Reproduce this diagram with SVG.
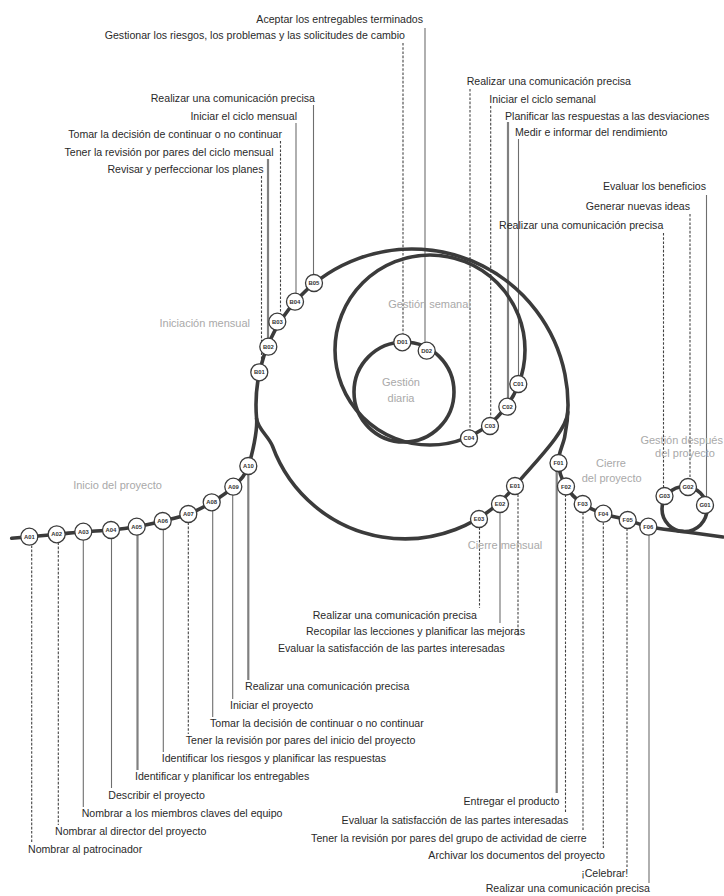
<svg xmlns="http://www.w3.org/2000/svg" width="724" height="896" viewBox="0 0 724 896">
<style>
.t{font-family:"Liberation Sans",Arial,sans-serif;font-size:10.6px;fill:#2a2a2a}
.e{text-anchor:end}
.r{font-family:"Liberation Sans",Arial,sans-serif;font-size:11px;fill:#a9a9a9}
.m{text-anchor:middle}
.ls{stroke:#6e6e6e;stroke-width:1.1;fill:none}
.ld{stroke:#444;stroke-width:1.1;stroke-dasharray:2.6 1.6;fill:none}
.lt{stroke:#808080;stroke-width:2.2;fill:none}
.track{stroke:#3b3b3b;stroke-width:3.6;fill:none;stroke-linecap:round}
.n circle{fill:#fff;stroke:#3b3b3b;stroke-width:1.3}
.n text{font-family:"Liberation Sans",Arial,sans-serif;font-size:5.9px;font-weight:bold;fill:#333;text-anchor:middle}
</style>
<rect width="724" height="896" fill="#fff"/>
<g id="connectors">
<line class="ls" x1="425" y1="28" x2="425" y2="350"/>
<line class="ld" x1="403" y1="43" x2="403" y2="342"/>
<line class="ls" x1="313.5" y1="105" x2="313.5" y2="283"/>
<line class="ls" x1="296" y1="123" x2="296" y2="301"/>
<line class="ld" x1="280.5" y1="141" x2="280.5" y2="321"/>
<line class="lt" x1="268" y1="159" x2="268" y2="346"/>
<line class="ld" x1="261.5" y1="176" x2="261.5" y2="372"/>
<line class="ld" x1="470" y1="89" x2="470" y2="438"/>
<line class="ld" x1="490.7" y1="106" x2="490.7" y2="426"/>
<line class="lt" x1="508" y1="122" x2="508" y2="406"/>
<line class="ls" x1="518.5" y1="139" x2="518.5" y2="384"/>
<line class="ls" x1="706.5" y1="195" x2="706.5" y2="505"/>
<line class="ld" x1="690" y1="214" x2="690" y2="483"/>
<line class="ld" x1="663.5" y1="233" x2="663.5" y2="494"/>
<line class="ld" x1="518" y1="486" x2="518" y2="637"/>
<line class="ls" x1="500" y1="504" x2="500" y2="623"/>
<line class="ld" x1="479.5" y1="519" x2="479.5" y2="608"/>
<line class="lt" x1="556.7" y1="463" x2="556.7" y2="793"/>
<line class="ld" x1="565.5" y1="486" x2="565.5" y2="812"/>
<line class="ld" x1="583" y1="504" x2="583" y2="830"/>
<line class="ld" x1="603.3" y1="514" x2="603.3" y2="848"/>
<line class="ld" x1="627" y1="520" x2="627" y2="867"/>
<line class="ls" x1="649" y1="527" x2="649" y2="883"/>
<line class="ld" x1="31.7" y1="537" x2="31.7" y2="843"/>
<line class="ld" x1="58.3" y1="534" x2="58.3" y2="825"/>
<line class="ls" x1="83.3" y1="532" x2="83.3" y2="807"/>
<line class="ls" x1="111.5" y1="530" x2="111.5" y2="788"/>
<line class="lt" x1="137.5" y1="527" x2="137.5" y2="770"/>
<line class="ls" x1="163.3" y1="521" x2="163.3" y2="752"/>
<line class="ld" x1="188.3" y1="514" x2="188.3" y2="734"/>
<line class="ls" x1="212.7" y1="502" x2="212.7" y2="717"/>
<line class="ls" x1="232.7" y1="487" x2="232.7" y2="699"/>
<line class="lt" x1="248.3" y1="466" x2="248.3" y2="680"/>
<path class="track" d="M11.7,538.3 C14.6,538 21.8,537.4 29.3,536.7 C36.8,536 47.7,535.1 56.7,534.3 C65.7,533.5 74.3,532.4 83.3,531.7 C92.4,531 102.1,530.8 111,530 C119.9,529.2 128.1,528.2 136.7,526.7 C145.3,525.2 154.1,523.1 162.7,521 C171.3,518.9 180.1,517.1 188.3,514 C196.5,510.9 204.2,506.9 211.7,502.3 C219.2,497.8 227.2,492.8 233.3,486.7 C239.4,480.7 244.4,477.4 248.3,466 C252.2,454.7 257.6,430.6 256.6,418.6 A156,156 0 1 1 564.6,437.4 C562.7,446.2 557.5,455 558.5,463 C558.7,471.2 562,479.7 566,486.5 C570,493.3 576.5,499.5 582.7,504 C588.9,508.5 595.8,511 603.3,513.7 C610.8,516.4 620.2,517.8 627.7,520 C635.2,522.2 638.8,524.7 648.3,526.7 C657.8,528.7 672,530 684.5,531.7 C697,533.4 716.6,536 723,537"/>
<path class="track" d="M567.8,412 C566.9,432 530.6,466.5 515,486 A141,141 0 0 1 272.5,446.2 C269.1,436.8 257.5,428.6 256.6,418.6"/>
<circle class="track" cx="430" cy="350" r="95"/>
<circle class="track" cx="404" cy="392" r="50"/>
<circle class="track" cx="684.5" cy="509" r="22.5"/>
</g>
<g id="labels">
<text class="t e" x="423" y="23">Aceptar los entregables terminados</text>
<text class="t e" x="405" y="39">Gestionar los riesgos, los problemas y las solicitudes de cambio</text>
<text class="t e" x="315" y="102">Realizar una comunicación precisa</text>
<text class="t e" x="297" y="120">Iniciar el ciclo mensual</text>
<text class="t e" x="282" y="138">Tomar la decisión de continuar o no continuar</text>
<text class="t e" x="273.5" y="156">Tener la revisión por pares del ciclo mensual</text>
<text class="t e" x="263.5" y="173">Revisar y perfeccionar los planes</text>
<text class="t" x="466.7" y="85">Realizar una comunicación precisa</text>
<text class="t" x="489.3" y="103">Iniciar el ciclo semanal</text>
<text class="t" x="505" y="120">Planificar las respuestas a las desviaciones</text>
<text class="t" x="515" y="136">Medir e informar del rendimiento</text>
<text class="t e" x="706" y="190">Evaluar los beneficios</text>
<text class="t e" x="690" y="210">Generar nuevas ideas</text>
<text class="t e" x="663.3" y="229">Realizar una comunicación precisa</text>
<text class="t e" x="477" y="619">Realizar una comunicación precisa</text>
<text class="t e" x="525" y="635">Recopilar las lecciones y planificar las mejoras</text>
<text class="t" x="278" y="652">Evaluar la satisfacción de las partes interesadas</text>
<text class="t" x="245" y="690">Realizar una comunicación precisa</text>
<text class="t" x="230" y="709">Iniciar el proyecto</text>
<text class="t" x="210" y="727">Tomar la decisión de continuar o no continuar</text>
<text class="t" x="185.7" y="743.5">Tener la revisión por pares del inicio del proyecto</text>
<text class="t" x="161.7" y="762">Identificar los riesgos y planificar las respuestas</text>
<text class="t" x="135" y="780">Identificar y planificar los entregables</text>
<text class="t" x="108.3" y="798.5">Describir el proyecto</text>
<text class="t" x="81.7" y="817">Nombrar a los miembros claves del equipo</text>
<text class="t" x="55" y="835">Nombrar al director del proyecto</text>
<text class="t" x="28" y="853">Nombrar al patrocinador</text>
<text class="t e" x="559.5" y="805">Entregar el producto</text>
<text class="t e" x="568.3" y="823.5">Evaluar la satisfacción de las partes interesadas</text>
<text class="t e" x="586.7" y="842">Tener la revisión por pares del grupo de actividad de cierre</text>
<text class="t e" x="605" y="858.5">Archivar los documentos del proyecto</text>
<text class="t e" x="628.3" y="877">¡Celebrar!</text>
<text class="t e" x="650" y="892">Realizar una comunicación precisa</text>
<text class="r m" x="117.5" y="489">Inicio del proyecto</text>
<text class="r e" x="250" y="327">Iniciación mensual</text>
<text class="r m" x="429.5" y="308">Gestión semanal</text>
<text class="r m" x="401" y="386">Gestión</text>
<text class="r m" x="401" y="402">diaria</text>
<text class="r m" x="505" y="549">Cierre mensual</text>
<text class="r m" x="611" y="467">Cierre</text>
<text class="r m" x="611.7" y="482">del proyecto</text>
<text class="r m" x="681.7" y="444">Gestión después</text>
<text class="r m" x="685" y="457">del proyecto</text>
</g>
<g id="A01" class="n"><circle cx="29.3" cy="536.7" r="8.5"/><text x="29.3" y="538.8">A01</text></g>
<g id="A02" class="n"><circle cx="56.7" cy="534.3" r="8.5"/><text x="56.7" y="536.4">A02</text></g>
<g id="A03" class="n"><circle cx="83.3" cy="531.7" r="8.5"/><text x="83.3" y="533.8">A03</text></g>
<g id="A04" class="n"><circle cx="111" cy="530" r="8.5"/><text x="111" y="532.1">A04</text></g>
<g id="A05" class="n"><circle cx="136.7" cy="526.7" r="8.5"/><text x="136.7" y="528.8">A05</text></g>
<g id="A06" class="n"><circle cx="162.7" cy="521" r="8.5"/><text x="162.7" y="523.1">A06</text></g>
<g id="A07" class="n"><circle cx="188.3" cy="514" r="8.5"/><text x="188.3" y="516.1">A07</text></g>
<g id="A08" class="n"><circle cx="211.7" cy="502.3" r="8.5"/><text x="211.7" y="504.4">A08</text></g>
<g id="A09" class="n"><circle cx="233.3" cy="486.7" r="8.5"/><text x="233.3" y="488.8">A09</text></g>
<g id="A10" class="n"><circle cx="248.3" cy="466" r="8.5"/><text x="248.3" y="468.1">A10</text></g>
<g id="B01" class="n"><circle cx="259.3" cy="372.3" r="8.5"/><text x="259.3" y="374.4">B01</text></g>
<g id="B02" class="n"><circle cx="268.3" cy="346.7" r="8.5"/><text x="268.3" y="348.8">B02</text></g>
<g id="B03" class="n"><circle cx="277.3" cy="321.7" r="8.5"/><text x="277.3" y="323.8">B03</text></g>
<g id="B04" class="n"><circle cx="295" cy="301.7" r="8.5"/><text x="295" y="303.8">B04</text></g>
<g id="B05" class="n"><circle cx="314" cy="283" r="8.5"/><text x="314" y="285.1">B05</text></g>
<g id="C01" class="n"><circle cx="518.3" cy="384" r="8.5"/><text x="518.3" y="386.1">C01</text></g>
<g id="C02" class="n"><circle cx="507.3" cy="406.7" r="8.5"/><text x="507.3" y="408.8">C02</text></g>
<g id="C03" class="n"><circle cx="490" cy="426" r="8.5"/><text x="490" y="428.1">C03</text></g>
<g id="C04" class="n"><circle cx="469" cy="438.3" r="8.5"/><text x="469" y="440.4">C04</text></g>
<g id="D01" class="n"><circle cx="402.3" cy="342.3" r="8.5"/><text x="402.3" y="344.4">D01</text></g>
<g id="D02" class="n"><circle cx="426.7" cy="350.7" r="8.5"/><text x="426.7" y="352.8">D02</text></g>
<g id="E01" class="n"><circle cx="515" cy="486" r="8.5"/><text x="515" y="488.1">E01</text></g>
<g id="E02" class="n"><circle cx="500" cy="504" r="8.5"/><text x="500" y="506.1">E02</text></g>
<g id="E03" class="n"><circle cx="479" cy="519" r="8.5"/><text x="479" y="521.1">E03</text></g>
<g id="F01" class="n"><circle cx="558.5" cy="463" r="8.5"/><text x="558.5" y="465.1">F01</text></g>
<g id="F02" class="n"><circle cx="566" cy="486.5" r="8.5"/><text x="566" y="488.6">F02</text></g>
<g id="F03" class="n"><circle cx="582.7" cy="504" r="8.5"/><text x="582.7" y="506.1">F03</text></g>
<g id="F04" class="n"><circle cx="603.3" cy="513.7" r="8.5"/><text x="603.3" y="515.8">F04</text></g>
<g id="F05" class="n"><circle cx="627.7" cy="520" r="8.5"/><text x="627.7" y="522.1">F05</text></g>
<g id="F06" class="n"><circle cx="648.3" cy="526.7" r="8.5"/><text x="648.3" y="528.8">F06</text></g>
<g id="G01" class="n"><circle cx="705" cy="505" r="8.5"/><text x="705" y="507.1">G01</text></g>
<g id="G02" class="n"><circle cx="688" cy="487" r="8.5"/><text x="688" y="489.1">G02</text></g>
<g id="G03" class="n"><circle cx="664.5" cy="496" r="8.5"/><text x="664.5" y="498.1">G03</text></g>
</svg>
